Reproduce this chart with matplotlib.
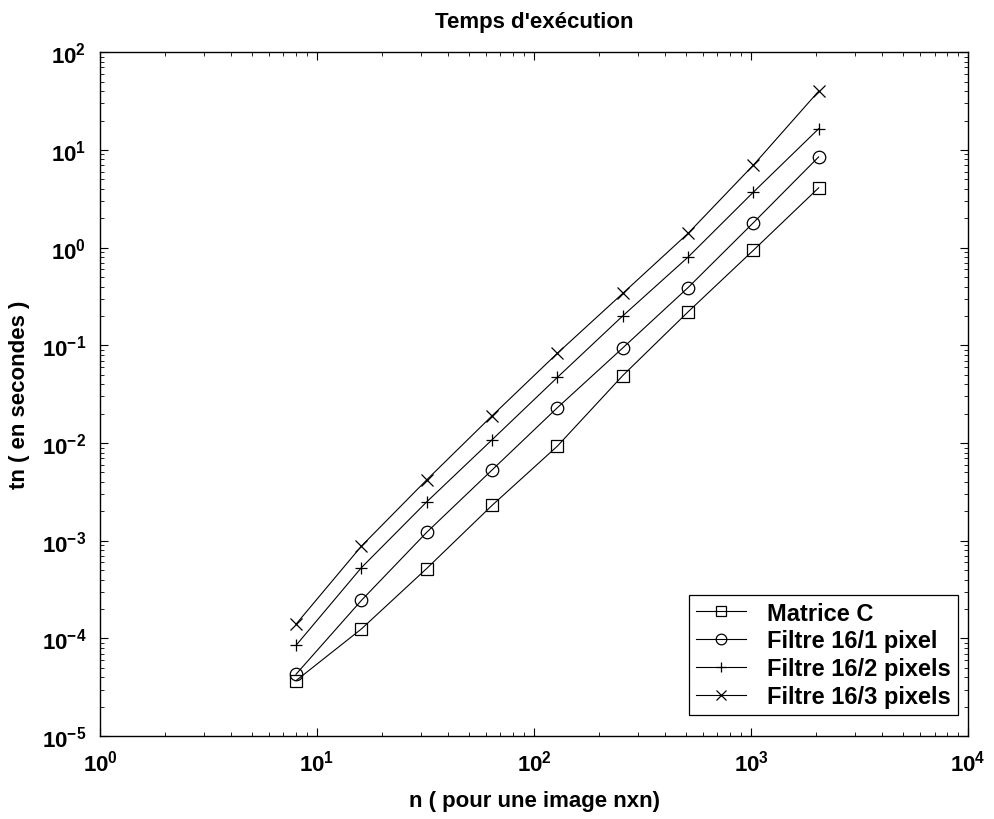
import numpy as np
import matplotlib
matplotlib.use("Agg")
import matplotlib.pyplot as plt

plt.rcParams['font.family'] = ['Liberation Sans', 'DejaVu Sans']
plt.rcParams['font.weight'] = 'bold'
plt.rcParams['mathtext.default'] = 'bf'

# taille de l'image n (image n x n)
n = [8, 16, 32, 64, 128, 256, 512, 1024, 2048]

# temps d'exécution en secondes
matrice_c = [3.7e-5, 1.25e-4, 5.2e-4, 2.3e-3, 9.3e-3, 0.049, 0.22, 0.94, 4.1]
filtre_1 = [4.3e-5, 2.45e-4, 1.22e-3, 5.3e-3, 0.023, 0.094, 0.39, 1.8, 8.5]
filtre_2 = [8.5e-5, 5.3e-4, 2.5e-3, 0.0108, 0.047, 0.2, 0.8, 3.7, 16.5]
filtre_3 = [1.4e-4, 8.8e-4, 4.2e-3, 0.019, 0.083, 0.34, 1.4, 7.0, 40]

labels = ["Matrice C", "Filtre 16/1 pixel", "Filtre 16/2 pixels", "Filtre 16/3 pixels"]
markers = ['s', 'o', '+', 'x']

fig = plt.figure(figsize=(9.95, 8.2), dpi=100)
ax = fig.add_axes([0.1005, 0.101, 0.8725, 0.834])

for serie, lab, m in zip([matrice_c, filtre_1, filtre_2, filtre_3], labels, markers):
    ax.loglog(n, serie, color='black', lw=0.8, marker=m, ms=9, mew=0.9,
              fillstyle='none', label=lab)

ax.set_xlim(1, 1e4)
ax.set_ylim(1e-5, 1e2)
ax.tick_params(which='both', direction='in', top=True, right=True, labelsize=16)
ax.tick_params(which='major', length=6)
ax.tick_params(which='minor', length=3)
ax.tick_params(axis='x', which='major', pad=10)
ax.tick_params(axis='y', which='major', pad=10)
for s in ax.spines.values():
    s.set_linewidth(1.0)

ax.set_title("Temps d'exécution", fontsize=16, fontweight='bold', pad=18)
ax.set_xlabel("n ( pour une image nxn)", fontsize=16, fontweight='bold', labelpad=10)
ax.set_ylabel("tn ( en secondes )", fontsize=16, fontweight='bold', labelpad=8)

leg = ax.legend(loc='lower right', bbox_to_anchor=(0.9885, 0.031), borderaxespad=0,
                fontsize=17, fancybox=False, edgecolor='black', framealpha=1,
                handlelength=2.1, handletextpad=0.9, labelspacing=0.2, borderpad=0.3,
                markerscale=0.85)
leg.get_frame().set_linewidth(0.9)

fig.savefig("out.png", dpi=100)
